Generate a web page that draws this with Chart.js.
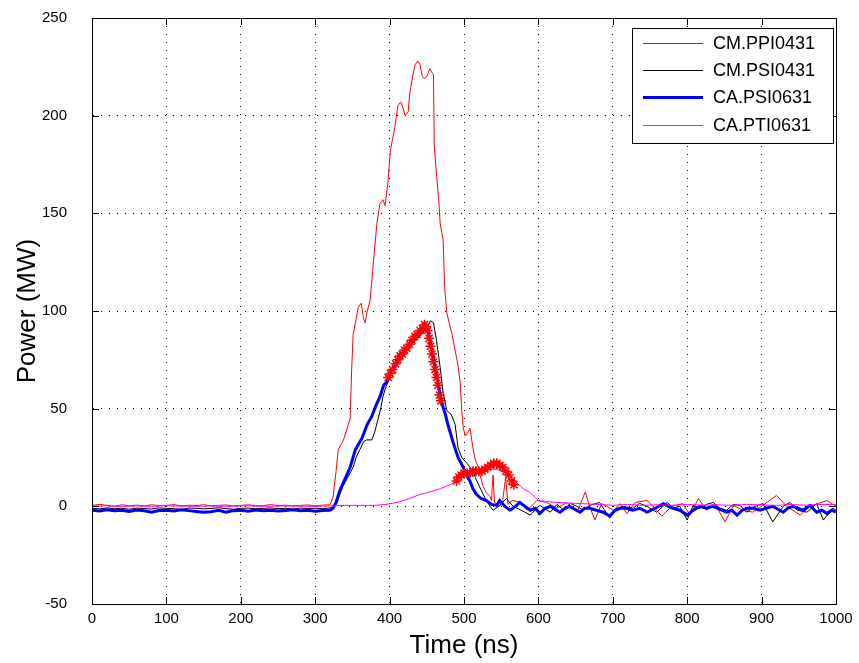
<!DOCTYPE html>
<html>
<head>
<meta charset="utf-8">
<script src="https://cdn.jsdelivr.net/npm/chart.js@4"></script>
<style>
  html, body { margin: 0; padding: 0; background: #fff; }
  #wrap { width: 859px; height: 663px; }
</style>
</head>
<body>
<div id="wrap"><canvas id="c" width="859" height="663"></canvas></div>
<script>
const seriesNames = ['CM.PPI0431', 'CM.PSI0431', 'CA.PSI0631', 'CA.PTI0631'];

// CM.PPI0431 (red)
const redT = [0,10,20,30,40,50,60,70,80,90,100,110,120,130,140,150,160,170,180,190,200,210,220,230,240,250,260,270,280,290,300,310,320,
  324,328,331,335,338,343,347,349,351,355,358,362,365,367,370,374,378,383,387,391,394,398,401,404,407,411,415,418,421,425,427,431,434,438,441,444,447,450,454,457,459,
  460,463,466,468,472,474,477,480,484,488,492,495,497,499,502,504,508,510,512,515,519,523,526,530,535,537,539,541,548,552,556,559,565,
  575,585,598,611,625,638,652,663,669,676,685,701,710,719,730,746,754,766,779,794,804,815,826,837,851,862,875,888,902,920,934,952,965,988,1000];
const redV = [0.5,1,0.5,0,0.8,0.3,0.6,0.2,0.8,0.4,0.5,0.9,0.2,0.6,0.4,0.8,0.3,0.5,0.7,0.2,0.5,0.8,0.4,0.3,0.9,0.4,0.6,0.2,0.5,0.7,0.3,0.6,0.8,
  4.6,18,29,32,34,40,45,70,88,96,102,104,96,94,100,106,124,145,155,157,154,167,182,188,194,205,207,204,200,202,211,220,226,228,226,220,219,220,224,222,221,
  185,170,157,145,136,112,99,94,88,80,72,63,49,40,36,37,40,35,30,24,20,14,10,7,5,3,16,2,0,3,15,1,3,
  2.2,-2,3,2,-1,2,-3,7.4,-0.3,-7,1.4,-2,1.4,-3.7,2,3,0,-5,0,1.4,-4.5,4,-2,1.4,-8,0.5,-2,-3,0.5,5.6,0,-4.5,0,3,0];

// CM.PSI0431 (black)
const blackT = [0,10,20,30,40,50,60,70,80,90,100,110,120,130,140,150,160,170,180,190,200,210,220,230,240,250,260,270,280,290,300,310,320,
  325,329,333,337,344,351,355,360,365,369,376,380,384,388,391,394,398,403,410,420,430,440,448,455,459,463,468,472,477,480,483,488,492,497,504,512,516,521,526,530,535,539,
  548,557,566,577,589,602,616,625,634,643,652,660,669,682,696,705,714,727,736,746,759,773,781,790,800,808,817,826,835,844,853,862,871,880,891,902,915,929,938,948,961,974,983,996,1000];
const blackV = [-1,-1.3,-0.8,-1.2,-1,-1.5,-0.9,-1.1,-1.4,-0.8,-1,-1.2,-1.6,-0.9,-1,-1.3,-1.1,-0.7,-1.2,-1.5,-1,-0.9,-1.3,-1.1,-0.8,-1.2,-1,-1.4,-0.9,-1.1,-1,-1.2,-0.8,
  -0.5,1.5,6,10,15,20,25,29,33,34,34,38,44,50,56,60,64,68,73,78,83,87,90,95,94,85,71,58,49,48,47,42,30,25,22,18,14,10,6,3,0,-2,
  0.5,4,0,-2,-4.5,0.5,-3,1,-2,1.5,0,-2,0.5,2,-6,-1,0,-1,1.5,0,-3,2,-1,0,-7,0.5,-1,1,2,-1,-2,1,0.5,-3,0,1.4,-8,0,2,-2,-3,1.4,-7,-1,-2];

// CA.PSI0631 (blue, thick)
const blueT = [0,10,20,30,40,50,60,70,80,90,100,110,120,130,140,150,160,170,180,190,200,210,220,230,240,250,260,270,280,290,300,310,320,
  324,328,333,340,347,354,363,370,376,382,387,392,397,401,408,414,420,427,434,441,448,452,456,459,465,470,475,479,486,492,499,503,508,512,517,523,530,537,544,
  548,555,562,569,575,582,589,596,602,609,616,622,629,636,642,649,656,662,669,678,687,696,703,710,718,727,736,746,757,768,775,781,790,800,808,817,826,835,844,853,860,867,874,880,889,898,906,915,922,929,935,942,949,956,965,974,981,988,994,1000];
const blueV = [-2,-2.4,-1.8,-2.2,-2,-2.6,-1.9,-2.3,-3,-2.1,-2,-2.4,-1.8,-2.2,-2.6,-3,-2.8,-2,-3,-2.2,-2,-2.5,-1.9,-2.3,-2,-2.4,-2.1,-1.8,-2.3,-2,-2.5,-2.1,-2,
  -1,2,8,14,20,29,35,42,46,52,56,62,64,68,72,76,79,83,86,88,92,89,82,76,63,53,47,41,32,25,20,16,13,9,6,4,3,1,0.5,
  3,0,-2,0,2,0,-2,-1,-3.7,-1,0,-1.5,-3,-1,0,-1.5,-3,-1,-1,-2,-3,-5,-2,-1,-1,-2,-1,-3,-1,1.4,0,-1,-2,-4.5,-2,0,-1,0,-1.5,-3,-2,-4.5,-2,-1,-1,-2,-1,0,-1.5,-3,-1,0,-1,-2,0.5,-3,-2,-3.7,-2,-3];

// CA.PTI0631 (magenta)
const magT = [0,20,40,60,80,100,120,140,160,180,200,220,240,260,280,300,320,340,360,380,395,410,427,440,450,460,468,481,490,497,504,515,530,545,558,565,571,580,589,600,611,625,650,680,
  700,720,740,760,780,800,820,840,860,880,900,920,940,960,980,1000];
const magV = [0,0.3,0,0.2,0,0.3,0.1,0,0.2,0,0.3,0.1,0,0.2,0.1,0,0.2,0.5,0.5,0.5,1,2,4,6,7,8,9,11,13,15,17,18,19,19,17,15,12,9,7,3,2.5,2,1.5,1,
  0.5,1,0.5,0.8,0.5,1,0.6,0.8,0.5,1,0.7,0.5,0.9,0.6,1,0.8];

// red asterisk markers (not in legend)
const starT = [398,401,404,408,411,414,417,420,423,427,430,434,437,441,444,447,449,451,453,455,457,459,461,463,465,467,469,
  490,493,496,500,504,508,512,516,520,524,528,532,536,540,544,548,552,556,560,564,567];
const starV = [66,68,70,73,75,77,78,80,81,83,85,87,88,90,91,93,92,90,86,82,78,74,70,66,62,57,54,
  13,15,16,17,17,17,18,18,18,18,19,20,21,22,22,21,20,18,16,13,11];

const pts = (t, v) => t.map((x, i) => ({ x: x, y: v[i] }));

const FONT = "'Liberation Sans', Arial, sans-serif";

const boxPlugin = {
  id: 'box',
  afterDraw(chart) {
    const ctx = chart.ctx;
    const a = chart.chartArea;
    const xs = chart.scales.x, ys = chart.scales.y;
    ctx.save();
    ctx.strokeStyle = '#000';
    ctx.lineWidth = 1;
    ctx.strokeRect(a.left + 0.5, a.top + 0.5, a.right - a.left, a.bottom - a.top);
    ctx.beginPath();
    xs.ticks.forEach(t => {
      const p = Math.round(xs.getPixelForValue(t.value)) + 0.5;
      ctx.moveTo(p, a.bottom); ctx.lineTo(p, a.bottom - 7);
      ctx.moveTo(p, a.top); ctx.lineTo(p, a.top + 7);
    });
    ys.ticks.forEach(t => {
      const p = Math.round(ys.getPixelForValue(t.value)) + 0.5;
      ctx.moveTo(a.left, p); ctx.lineTo(a.left + 7, p);
      ctx.moveTo(a.right, p); ctx.lineTo(a.right - 7, p);
    });
    ctx.stroke();

    // legend box
    const lx = 632, ly = 28, lw = 201, lh = 115;
    ctx.fillStyle = '#fff';
    ctx.fillRect(lx, ly, lw, lh);
    ctx.strokeRect(lx + 0.5, ly + 0.5, lw, lh);
    ctx.font = '18px ' + FONT;
    ctx.textBaseline = 'middle';
    ctx.textAlign = 'left';
    const rows = [43, 70, 97, 125];
    chart.data.datasets.slice(0, 4).forEach((ds, i) => {
      ctx.strokeStyle = ds.borderColor;
      ctx.lineWidth = ds.borderWidth;
      ctx.beginPath();
      ctx.moveTo(643, rows[i] + 0.5);
      ctx.lineTo(703, rows[i] + 0.5);
      ctx.stroke();
      ctx.fillStyle = '#000';
      ctx.fillText(ds.label, 713, rows[i] + 1);
    });
    ctx.restore();
  }
};

new Chart(document.getElementById('c'), {
  type: 'line',
  data: {
    datasets: [
      { label: seriesNames[0], data: pts(redT, redV), borderColor: '#ff0000', borderWidth: 1, pointRadius: 0, order: 4 },
      { label: seriesNames[1], data: pts(blackT, blackV), borderColor: '#000000', borderWidth: 1, pointRadius: 0, order: 3 },
      { label: seriesNames[2], data: pts(blueT, blueV), borderColor: '#0000ff', borderWidth: 3, pointRadius: 0, order: 2 },
      { label: seriesNames[3], data: pts(magT, magV), borderColor: '#ff00ff', borderWidth: 1, pointRadius: 0, order: 1 },
      { label: 'markers', data: pts(starT, starV), borderColor: '#ff0000', backgroundColor: '#ff0000', showLine: false,
        pointStyle: 'star', pointRadius: 5, pointBorderWidth: 1.5, order: 0 }
    ]
  },
  options: {
    responsive: false,
    animation: false,
    events: [],
    layout: { padding: { top: 18, right: 23, bottom: 0, left: 0 } },
    plugins: { legend: { display: false }, tooltip: { enabled: false } },
    scales: {
      x: {
        type: 'linear', min: 0, max: 1000,
        afterFit: s => { s.height = 59; },
        ticks: { stepSize: 100, padding: 6, color: '#000', font: { family: FONT, size: 15 }, maxRotation: 0, callback: v => String(v) },
        grid: { color: '#000', drawTicks: false, lineWidth: 1 },
        border: { display: true, color: '#000', dash: [1, 7] },
        title: { display: true, text: 'Time (ns)', color: '#000', font: { family: FONT, size: 26 }, padding: { top: 0, bottom: 2 } }
      },
      y: {
        min: -50, max: 250,
        afterFit: s => { s.width = 92; s.paddingTop = 0; s.paddingBottom = 0; },
        ticks: { stepSize: 50, padding: 25, color: '#000', font: { family: FONT, size: 15 }, callback: v => String(v) },
        grid: { color: '#000', drawTicks: false, lineWidth: 1 },
        border: { display: true, color: '#000', dash: [1, 7] },
        title: { display: true, text: 'Power (MW)', color: '#000', font: { family: FONT, size: 26 }, padding: { top: 12, bottom: 0 } }
      }
    }
  },
  plugins: [boxPlugin]
});
</script>
</body>
</html>
